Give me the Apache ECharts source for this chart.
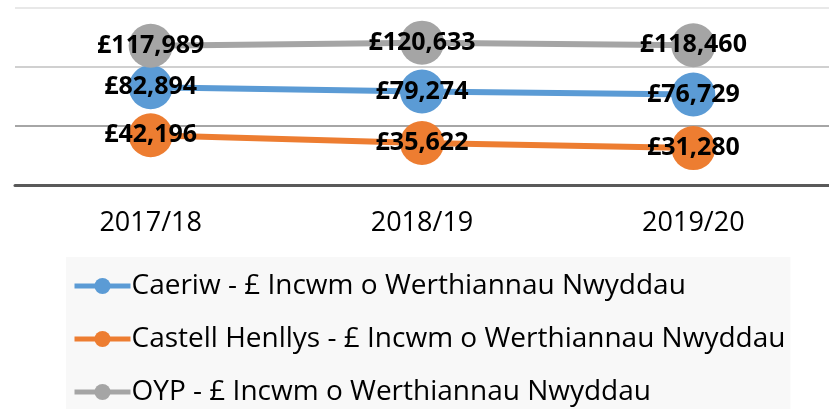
<!DOCTYPE html>
<html>
<head>
<meta charset="utf-8">
<script src="https://cdn.jsdelivr.net/npm/echarts@6/dist/echarts.min.js"></script>
<style>
html, body { margin: 0; padding: 0; background: #fff; }
#chart { width: 829px; height: 409px; }
</style>
</head>
<body>
<div id="chart"></div>
<script>
// blynyddoedd ar yr echelin x
var years = ['2017/18', '2018/19', '2019/20'];
var seriesNames = [
    'Caeriw - £ Incwm o Werthiannau Nwyddau',
    'Castell Henllys - £ Incwm o Werthiannau Nwyddau',
    'OYP - £ Incwm o Werthiannau Nwyddau'
];
var caeriw = [82894, 79274, 76729];
var castellHenllys = [42196, 35622, 31280];
var oyp = [117989, 120633, 118460];
var yTicks = [0, 50000, 100000, 150000];

var colors = ['#5B9BD5', '#ED7D31', '#A5A5A5'];
var font = '"Open Sans", "Noto Sans", sans-serif';

var chart = echarts.init(document.getElementById('chart'));

function makeSeries(name, data, color) {
    return {
        name: name,
        type: 'line',
        data: data,
        symbol: 'circle',
        symbolSize: 44,
        lineStyle: { width: 6, color: color },
        itemStyle: { color: color },
        label: {
            show: true,
            position: 'inside',
            color: '#000',
            fontFamily: font,
            fontWeight: 'bold',
            fontSize: 25,
            formatter: function (p) {
                return '£' + p.value.toLocaleString('en-GB');
            }
        },
        emphasis: { disabled: true },
        animation: false
    };
}

chart.setOption({
    animation: false,
    color: colors,
    grid: { left: 15, top: 8, width: 822, bottom: 224, containLabel: false },
    legend: {
        orient: 'vertical',
        left: 66,
        top: 257,
        height: 300,
        backgroundColor: '#f8f8f8',
        padding: [15, 5, 14, 6],
        itemGap: 25,
        itemWidth: 56,
        itemHeight: 20,
        lineStyle: { width: 5 },
        textStyle: { fontFamily: font, fontSize: 28, color: '#000', padding: [0, 0, 0, -4] },
        data: seriesNames
    },
    xAxis: {
        type: 'category',
        data: years,
        boundaryGap: true,
        axisLine: { lineStyle: { color: '#595959', width: 3 } },
        axisTick: { show: false },
        axisLabel: { fontFamily: font, fontSize: 27, color: '#000', margin: 25 }
    },
    yAxis: {
        type: 'value',
        min: yTicks[0],
        max: yTicks[yTicks.length - 1],
        interval: yTicks[1] - yTicks[0],
        axisLine: { show: false },
        axisTick: { show: false },
        axisLabel: { show: false },
        splitLine: { lineStyle: { color: ['#595959', '#a6a6a6', '#d0d0d0', '#e8e8e8'], width: 2 } }
    },
    series: [
        makeSeries(seriesNames[0], caeriw, colors[0]),
        makeSeries(seriesNames[1], castellHenllys, colors[1]),
        makeSeries(seriesNames[2], oyp, colors[2])
    ]
});
</script>
</body>
</html>
